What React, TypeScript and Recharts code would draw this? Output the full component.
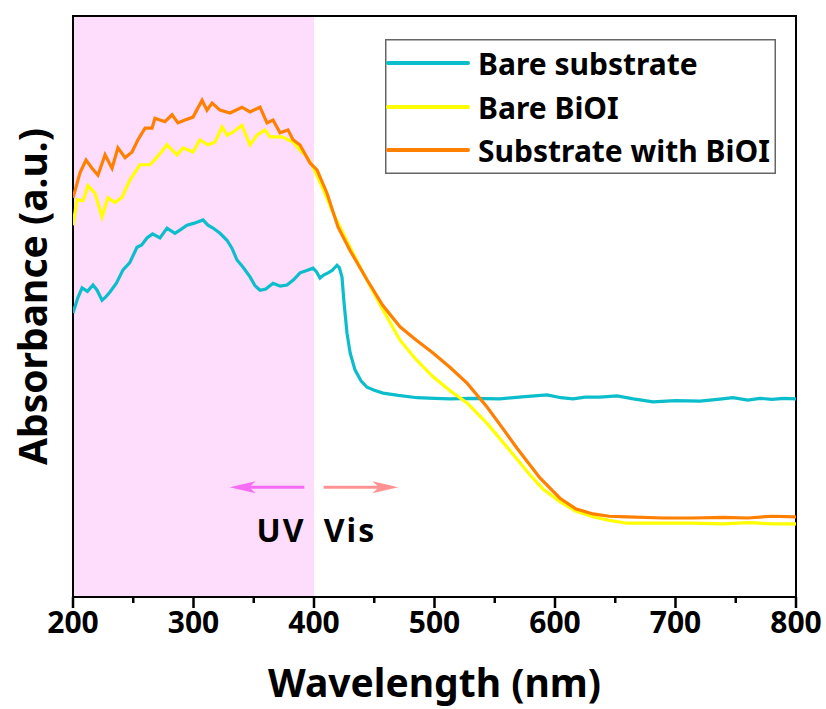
import React from 'react';
import { LineChart, Line, XAxis, YAxis, ReferenceArea, ReferenceLine, ReferenceDot, Legend, Label } from 'recharts';

const FONT = '"Noto Sans", "DejaVu Sans", sans-serif';

// Bare substrate
const substrateWl = [200, 204, 207.5, 212, 216.6, 220, 224.1, 227, 230.7, 236, 241.5, 247, 253.1, 257, 261.4, 266, 272.2, 278, 284.6, 289, 294.6, 300, 304, 307.9, 312, 316.2, 322, 327.8, 332, 336.1, 341, 346.9, 351, 355.2, 360, 366, 372, 377.6, 383, 388.4, 394, 399.2, 402, 405, 408, 411.6, 415, 419.1, 421, 423.2, 425, 427.4, 430, 434, 439, 444, 450, 457.3, 470, 485.5, 500, 512.9, 530, 554.4, 575, 593.4, 605, 614.9, 625, 637.3, 651.5, 665, 681.3, 700, 720.3, 735, 747.7, 760, 770, 780, 790, 800];
const substrateAbs = [48.9, 51.5, 53.2, 52.6, 53.7, 52.8, 51.1, 51.6, 52.5, 54.0, 56.3, 57.5, 60.2, 60.6, 61.8, 62.5, 61.8, 63.5, 62.6, 63.2, 64.0, 64.3, 64.6, 64.9, 64.0, 63.5, 62.6, 61.4, 60.0, 58.0, 56.8, 55.1, 53.6, 52.8, 53.0, 54.0, 53.5, 53.7, 54.6, 55.8, 56.2, 56.6, 56.0, 54.9, 55.4, 55.8, 56.2, 57.1, 56.7, 55.1, 50.5, 45.4, 42.0, 39.1, 37.2, 36.1, 35.6, 35.1, 34.7, 34.3, 34.2, 34.1, 34.2, 34.1, 34.5, 34.8, 34.3, 34.1, 34.4, 34.4, 34.6, 34.1, 33.6, 33.8, 33.7, 34.0, 34.3, 33.9, 34.2, 34.0, 34.2, 34.1];

// Bare BiOI
const biOIWl = [200, 203.3, 208.3, 212.4, 218.3, 224.1, 229, 234.9, 240.7, 247.3, 255.6, 263.9, 269.7, 278, 286.3, 291.3, 299.6, 305.4, 312, 317.8, 323.7, 327.8, 332.8, 340.2, 346.9, 352.7, 359.3, 363.5, 373.4, 382.6, 388.4, 394, 399.2, 407, 415.8, 428, 440.7, 457.3, 471.4, 485, 498.8, 513, 527, 544, 560.2, 579.3, 590, 604.1, 617, 631.5, 645, 659.8, 690, 714.5, 740, 760, 780, 800];
const biOIAbs = [64.0, 68.4, 68.2, 70.8, 69.5, 65.4, 68.7, 67.9, 68.8, 71.8, 74.4, 74.4, 75.7, 77.8, 76.1, 77.3, 76.6, 78.7, 77.8, 78.3, 80.9, 79.5, 80.0, 81.2, 77.8, 79.5, 80.4, 79.2, 79.2, 78.3, 76.9, 75.8, 74.0, 70.5, 66.1, 61.0, 55.8, 49.4, 44.2, 40.8, 37.9, 35.5, 33.4, 29.8, 25.8, 21.0, 18.6, 16.4, 14.8, 13.8, 13.2, 12.7, 12.7, 12.7, 12.6, 12.8, 12.6, 12.6];

// Substrate with BiOI
const compositeWl = [200, 205.8, 210.8, 215.8, 220.7, 226.6, 232.4, 237.3, 243.2, 249, 253.9, 259.8, 265.6, 268, 276.3, 282.2, 287.1, 292.9, 299.6, 307.1, 311.2, 315.4, 322, 330.3, 340.2, 346.9, 355.2, 361, 366, 371.8, 378.4, 382.6, 388.4, 396.7, 402.5, 410.8, 419.9, 430, 444, 457, 471.4, 485, 498.8, 513, 527, 543.6, 556, 568.5, 587.5, 604.1, 617, 631.5, 645, 659.8, 690, 714.5, 740, 760, 780, 800];
const compositeAbs = [68.7, 73.0, 75.2, 73.8, 72.6, 76.1, 73.8, 77.3, 75.6, 76.6, 78.7, 80.7, 80.7, 82.4, 81.8, 83.0, 81.6, 82.1, 82.6, 85.5, 83.8, 85.0, 83.8, 83.3, 84.3, 83.5, 84.3, 81.6, 82.1, 79.9, 80.4, 78.7, 77.8, 74.7, 73.5, 69.5, 63.7, 59.6, 54.6, 50.2, 46.5, 44.2, 42.0, 39.5, 36.8, 32.7, 29.2, 25.6, 20.5, 17.0, 15.2, 14.3, 13.9, 13.8, 13.6, 13.6, 13.7, 13.6, 13.9, 13.8];

const seriesNames = ['Bare substrate', 'Bare BiOI', 'Substrate with BiOI'];
const seriesColors = ['#0cbdcc', '#ffff00', '#ff8000'];
const xTicks = [200, 250, 300, 350, 400, 450, 500, 550, 600, 650, 700, 750, 800];
const uvRange = [200, 400];
const uvArrow = [392, 330];
const visArrow = [408, 470];
const arrowLevel = 18.9;
const regionLabels = [
  { text: 'UV', x: 372.6, y: 9.5 },
  { text: 'Vis', x: 429.9, y: 9.5 },
];

const toPoints = (wl: number[], ab: number[]) => wl.map((w, i) => ({ wl: w, abs: ab[i] }));
const series = [
  toPoints(substrateWl, substrateAbs),
  toPoints(biOIWl, biOIAbs),
  toPoints(compositeWl, compositeAbs),
];

const XTick = (props: any) => {
  const { x, y, payload } = props;
  const major = payload.value % 100 === 0;
  return (
    <g>
      <rect x={x - 1.25} y={y} width={2.5} height={major ? 11 : 6} fill="#000" />
      {major && (
        <text x={x} y={y + 36} textAnchor="middle" fontSize={30} fontWeight="bold" fontFamily={FONT} fill="#000">
          {payload.value}
        </text>
      )}
    </g>
  );
};

const arrowShape = (color: string) => (p: any) => {
  const { x1, y1, x2, y2 } = p;
  const dir = Math.sign(x2 - x1);
  const head = 26;
  const hw = 6;
  return (
    <g>
      <line x1={x1} y1={y1} x2={x2 - dir * head * 0.7} y2={y2} stroke={color} strokeWidth={3} />
      <polygon
        points={`${x2},${y2} ${x2 - dir * head},${y2 - hw} ${x2 - dir * head * 0.75},${y2} ${x2 - dir * head},${y2 + hw}`}
        fill={color}
      />
    </g>
  );
};

const legendRows = [24, 68, 111];

const renderLegend = (p: any) => {
  const payload = [...(p.payload || [])].sort(
    (a: any, b: any) => seriesNames.indexOf(a.value) - seriesNames.indexOf(b.value)
  );
  return (
    <svg width={391} height={135} style={{ display: 'block' }}>
      <rect x={0.75} y={0.75} width={389.5} height={133.5} fill="#fff" stroke="#666" strokeWidth={1.5} />
      {payload.map((e: any, i: number) => (
        <g key={i}>
          <line x1={3} x2={83} y1={legendRows[i]} y2={legendRows[i]} stroke={e.color} strokeWidth={4} strokeLinecap="round" />
          <text x={93} y={legendRows[i] + 12} fontSize={30} fontWeight="bold" fontFamily={FONT} fill="#000">
            {e.value}
          </text>
        </g>
      ))}
    </svg>
  );
};

export default function App() {
  return (
    <div style={{ position: 'absolute', left: 0, top: 0, background: '#fff' }}>
      <LineChart width={826} height={709} margin={{ top: 16, right: 30, left: 0, bottom: 0 }}>
        <XAxis
          type="number"
          dataKey="wl"
          domain={[200, 800]}
          ticks={xTicks}
          interval={0}
          allowDataOverflow
          height={112}
          axisLine={false}
          tickLine={false}
          tickSize={0}
          tickMargin={0}
          tick={<XTick />}
          label={
            <Label
              content={(lp: any) => {
                const vb = lp.viewBox;
                return (
                  <text x={vb.x + vb.width / 2} y={vb.y + 100} textAnchor="middle" fontSize={39} fontWeight="bold" fontFamily={FONT} fill="#000">
                    Wavelength (nm)
                  </text>
                );
              }}
            />
          }
        />
        <YAxis
          type="number"
          domain={[0, 100]}
          width={73}
          tick={false}
          axisLine={false}
          tickLine={false}
          allowDataOverflow
          label={
            <Label
              content={(lp: any) => {
                const vb = lp.viewBox;
                const cx = vb.x + 47;
                const cy = vb.y + vb.height / 2 - 10;
                return (
                  <text x={cx} y={cy} transform={`rotate(-90 ${cx} ${cy})`} textAnchor="middle" fontSize={39} fontWeight="bold" fontFamily={FONT} fill="#000">
                    Absorbance (a.u.)
                  </text>
                );
              }}
            />
          }
        />
        <ReferenceArea x1={uvRange[0]} x2={uvRange[1]} y1={0} y2={100} fill="#fddcfc" fillOpacity={1} stroke="none" />
        <ReferenceLine segment={[{ x: uvArrow[0], y: arrowLevel }, { x: uvArrow[1], y: arrowLevel }]} shape={arrowShape('#f76cf4')} />
        <ReferenceLine segment={[{ x: visArrow[0], y: arrowLevel }, { x: visArrow[1], y: arrowLevel }]} shape={arrowShape('#ff9292')} />
        {regionLabels.map((l) => (
          <ReferenceDot
            key={l.text}
            x={l.x}
            y={l.y}
            r={0}
            shape={(p: any) => (
              <text x={p.cx} y={p.cy} textAnchor="middle" fontSize={32} letterSpacing={2} fontWeight="bold" fontFamily={FONT} fill="#000">
                {l.text}
              </text>
            )}
          />
        ))}
        {series.map((d, i) => (
          <Line
            key={seriesNames[i]}
            data={d}
            dataKey="abs"
            name={seriesNames[i]}
            type="linear"
            stroke={seriesColors[i]}
            strokeWidth={3.2}
            dot={false}
            activeDot={false}
            isAnimationActive={false}
          />
        ))}
        <ReferenceArea x1={200} x2={800} y1={0} y2={100} fill="none" stroke="#000" strokeWidth={2} />
        <Legend
          layout="horizontal"
          verticalAlign="middle"
          align="center"
          content={renderLegend}
          wrapperStyle={{ position: 'absolute', left: 385, top: 39, right: 'auto', bottom: 'auto', width: 391, height: 135, margin: 0, padding: 0 }}
        />
      </LineChart>
    </div>
  );
}
